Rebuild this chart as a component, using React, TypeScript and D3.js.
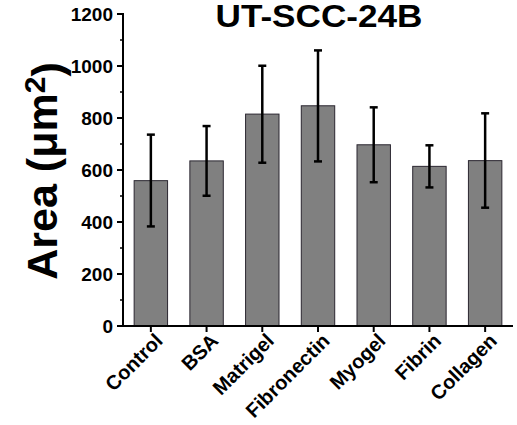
import React, { useEffect, useRef } from 'react';
import * as d3 from 'd3';

const categories = ['Control', 'BSA', 'Matrigel', 'Fibronectin', 'Myogel', 'Fibrin', 'Collagen'];
const means = [559, 635, 815, 847, 697, 614, 636];
const errLow = [383, 501, 628, 633, 553, 533, 455];
const errHigh = [736, 769, 1001, 1060, 841, 695, 818];
const yTicks = [0, 200, 400, 600, 800, 1000, 1200];
const yMinorTicks = [100, 300, 500, 700, 900, 1100];

const FONT = "'Liberation Sans', Arial, Helvetica, sans-serif";

const App = () => {
  const svgRef = useRef<SVGSVGElement>(null);

  useEffect(() => {
    const svg = d3.select(svgRef.current);
    svg.selectAll('*').remove();

    const left = 123, right = 513, top = 14, bottom = 326;

    const x = d3.scaleBand()
      .domain(categories)
      .range([left, right])
      .paddingInner(0.4)
      .paddingOuter(0.2);

    const y = d3.scaleLinear().domain([0, 1200]).range([bottom, top]);

    const rows = categories.map((c, i) => ({ c, m: means[i], lo: errLow[i], hi: errHigh[i] }));

    // bars
    svg.append('g')
      .selectAll('rect')
      .data(rows)
      .enter()
      .append('rect')
      .attr('x', d => x(d.c))
      .attr('y', d => y(d.m))
      .attr('width', x.bandwidth())
      .attr('height', d => y(0) - y(d.m))
      .attr('fill', '#808080')
      .attr('stroke', '#2a2630')
      .attr('stroke-width', 1);

    // error bars
    const eb = svg.append('g').attr('stroke', '#000').attr('stroke-width', 2.5);
    rows.forEach(d => {
      const cx = x(d.c) + x.bandwidth() / 2;
      eb.append('line').attr('x1', cx).attr('x2', cx).attr('y1', y(d.lo)).attr('y2', y(d.hi));
      [d.lo, d.hi].forEach(v => {
        eb.append('line').attr('x1', cx - 4).attr('x2', cx + 4).attr('y1', y(v)).attr('y2', y(v));
      });
    });

    // y axis
    const ya = svg.append('g');
    ya.append('line')
      .attr('x1', left).attr('x2', left)
      .attr('y1', top - 1).attr('y2', bottom + 1)
      .attr('stroke', '#000').attr('stroke-width', 2);
    ya.selectAll('.major')
      .data(yTicks)
      .enter()
      .append('line')
      .attr('x1', left - 6).attr('x2', left)
      .attr('y1', d => y(d)).attr('y2', d => y(d))
      .attr('stroke', '#000').attr('stroke-width', 2);
    ya.selectAll('.minor')
      .data(yMinorTicks)
      .enter()
      .append('line')
      .attr('x1', left - 3).attr('x2', left)
      .attr('y1', d => y(d)).attr('y2', d => y(d))
      .attr('stroke', '#000').attr('stroke-width', 1.5);
    ya.selectAll('text')
      .data(yTicks)
      .enter()
      .append('text')
      .attr('x', left - 10)
      .attr('y', d => y(d))
      .attr('dy', '0.36em')
      .attr('text-anchor', 'end')
      .style('font-family', FONT)
      .style('font-weight', 'bold')
      .style('font-size', '19px')
      .text(d => d);

    // x axis
    const xa = svg.append('g');
    xa.append('line')
      .attr('x1', left - 1).attr('x2', right)
      .attr('y1', bottom).attr('y2', bottom)
      .attr('stroke', '#000').attr('stroke-width', 2);
    xa.selectAll('.tick')
      .data(categories)
      .enter()
      .append('line')
      .attr('x1', d => x(d) + x.bandwidth() / 2)
      .attr('x2', d => x(d) + x.bandwidth() / 2)
      .attr('y1', bottom).attr('y2', bottom + 6)
      .attr('stroke', '#000').attr('stroke-width', 2);
    xa.selectAll('text')
      .data(categories)
      .enter()
      .append('text')
      .attr('transform', d => `translate(${x(d) + x.bandwidth() / 2 + 13},${bottom + 16}) rotate(-45)`)
      .attr('text-anchor', 'end')
      .style('font-family', FONT)
      .style('font-weight', 'bold')
      .style('font-size', '20px')
      .text(d => d);

    // title
    svg.append('text')
      .attr('x', 319)
      .attr('y', 27)
      .attr('text-anchor', 'middle')
      .attr('textLength', 207)
      .attr('lengthAdjust', 'spacingAndGlyphs')
      .style('font-family', FONT)
      .style('font-weight', 'bold')
      .style('font-size', '31px')
      .text('UT-SCC-24B');

    // y label
    const yl = svg.append('text')
      .attr('transform', 'translate(57,171) rotate(-90)')
      .attr('text-anchor', 'middle')
      .style('font-family', FONT)
      .style('font-weight', 'bold')
      .style('font-size', '43px');
    yl.append('tspan').text('Area (μm');
    yl.append('tspan').attr('dy', '-0.4em').style('font-size', '30px').text('2');
    yl.append('tspan').attr('dy', '0.4em').text(')');
  }, []);

  return (
    <svg
      ref={svgRef}
      width={517}
      height={425}
      style={{ position: 'absolute', left: 0, top: 0, background: '#fff' }}
    />
  );
};

export default App;
